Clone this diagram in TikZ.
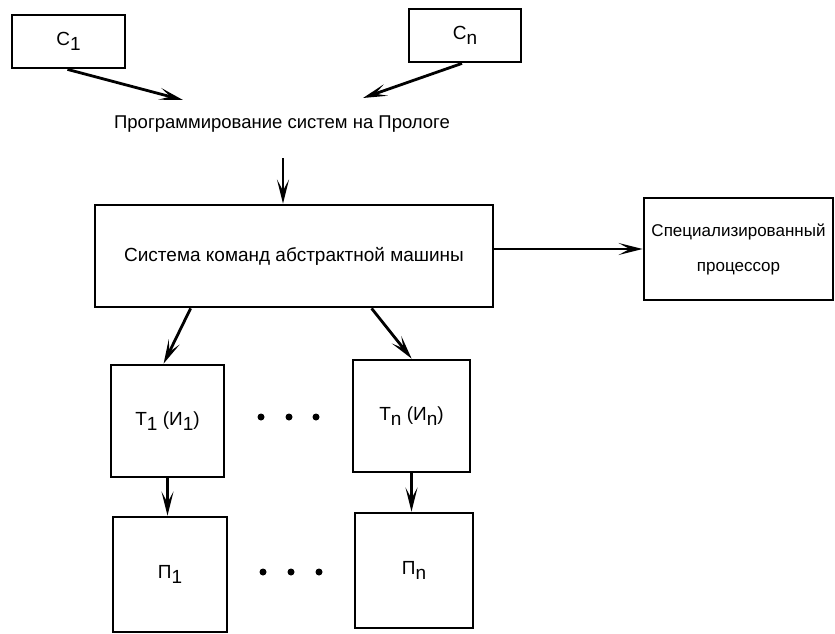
\documentclass[tikz,border=0pt]{standalone}
\usepackage{fontspec}
\setmainfont{Liberation Sans}
\usetikzlibrary{arrows.meta}
\tikzset{
  blk/.style={draw, line width=2.8pt, inner sep=0pt, font=\fontsize{19}{22}\selectfont},
  lbl/.style={inner sep=0pt, font=\fontsize{18.5}{22}\selectfont},
  arr/.style={line width=2.8pt, -{Stealth[length=24pt,width=12pt,inset=11pt]}},
  dot/.style={circle, fill, inner sep=0pt, minimum size=7pt},
}
\newcommand{\sbs}[1]{\raisebox{-0.55ex}{#1}}
\begin{document}
\begin{tikzpicture}[x=1pt,y=-1pt]
\useasboundingbox (0,0) rectangle (835,634);
% top sources
\node[blk, minimum width=113pt, minimum height=53pt] (c1) at (68.5,41.5) {С\sbs{1}};
\node[blk, minimum width=112pt, minimum height=53pt] (cn) at (465,35.5) {С\sbs{n}};
\coordinate (in1) at (183,100);
\coordinate (inn) at (363,98);
\draw[arr] ([xshift=-1pt]c1.south) -- (in1);
\draw[arr] ([xshift=-3pt]cn.south) -- (inn);
\node[lbl] (prog) at (282,124) {Программирование систем на Прологе};
\coordinate (progout) at (283,158);
% abstract machine
\node[blk, minimum width=398pt, minimum height=102pt] (main) at (294,256) {Система команд абстрактной машины};
\draw[arr] (progout) -- (progout |- main.north);
% specialised processor
\node[blk, minimum width=189pt, minimum height=102pt, align=center,
      font=\fontsize{17}{20}\selectfont] (spec) at (738.5,249)
  {Специализированный\\[15pt]процессор};
\draw[arr] (main.east |- spec.west) -- (spec.west);
% translators
\node[blk, minimum width=113pt, minimum height=112pt] (t1) at (167.5,421) {Т\sbs{1} (И\sbs{1})};
\node[blk, minimum width=117pt, minimum height=112pt] (tn) at (411.5,416) {Т\sbs{n} (И\sbs{n})};
\draw[arr] ([xshift=97pt]main.south west) -- ([xshift=54pt]t1.north west);
\draw[arr] ([xshift=278pt]main.south west) -- ([xshift=60pt]tn.north west);
\node[dot] (d1) at (261,417) {};
\node[dot] (d2) at (289,417) {};
\node[dot] (d3) at (316,417) {};
% programs
\node[blk, minimum width=114pt, minimum height=115pt] (p1) at (170,574.5) {П\sbs{1}};
\node[blk, minimum width=118pt, minimum height=115pt] (pn) at (414,570.5) {П\sbs{n}};
\draw[arr] (t1.south) -- (t1.south |- p1.north);
\draw[arr] (tn.south) -- (tn.south |- pn.north);
\node[dot] (e1) at (263,572) {};
\node[dot] (e2) at (291,572) {};
\node[dot] (e3) at (319,572) {};
\end{tikzpicture}
\end{document}
